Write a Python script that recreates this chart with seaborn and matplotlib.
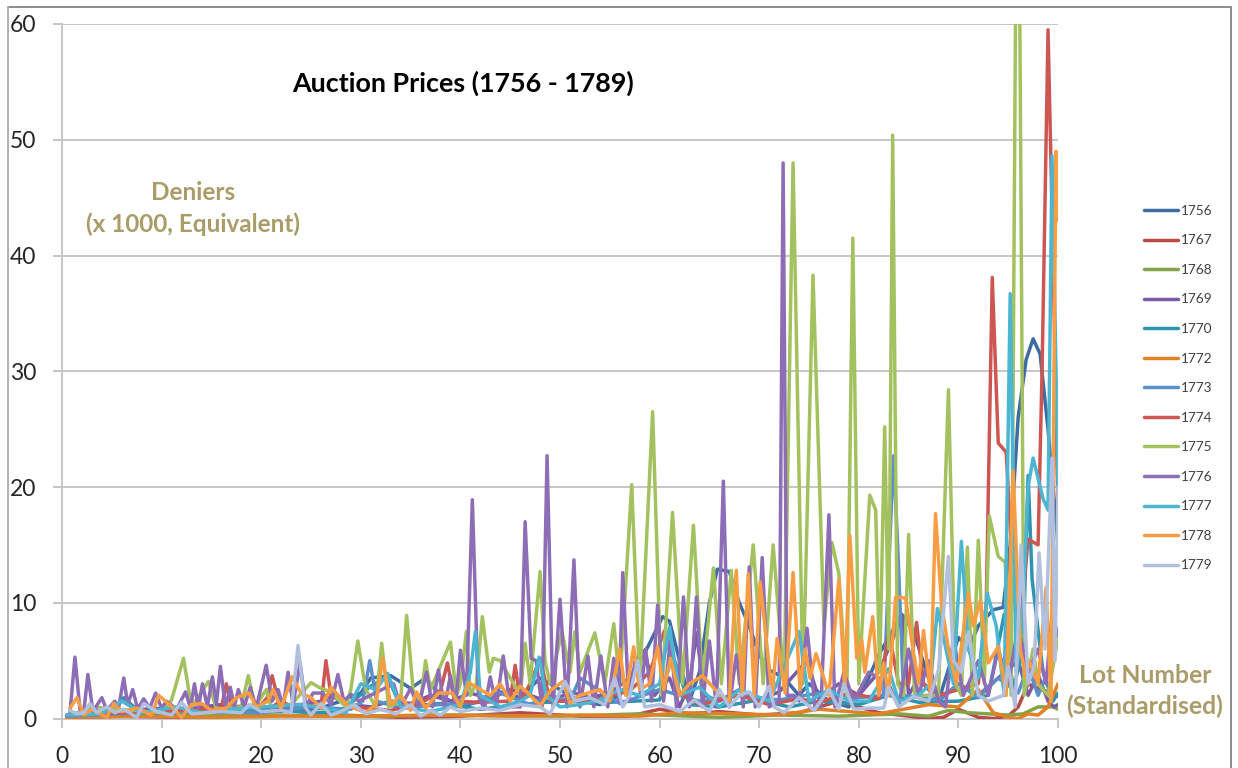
#!/bin/python3

import pandas as pd
import seaborn as sns
import matplotlib.pyplot as plt
from matplotlib.lines import Line2D

# (lot number, deniers x 1000)
pts_1756 = [(0.5,0.3),(8,0.3),(15,0.5),(22,0.6),(26,0.9),(28,1.5),(30,2.2),(31,3.5),(33,3.7),(35,2.6),(36.5,3.5),(38,2),(40,1),(42,1.5),(44,2.3),(46,1.8),(48,3.5),(50,2.5),(52,1.5),(54,1.2),(56,2),(57.5,4),(59,6.5),(60.3,8.8),(61,8.4),(62,5),(63,1.5),(64,4),(65,10),(65.8,12.9),(67,12.7),(68,10),(69,8),(70,5.5),(71,4.2),(72.5,3.5),(74,2),(75,3),(77,1.5),(79,1),(80,2),(81,3.5),(82,5.5),(83,7),(84.3,9),(85.5,7.5),(87,3.5),(88,1.5),(90,7),(91,6),(92,8),(93.5,9.4),(94.5,9.6),(95.2,15),(96,26),(96.8,31),(97.5,32.8),(98.2,31.5),(99,25),(100,15)]
pts_1767 = [(0.5,0.1),(6,0.2),(12,0.1),(20,0.4),(22,1.5),(24,0.6),(28,0.3),(34,0.1),(40,0.2),(46,0.5),(52,0.2),(57,0.2),(60,0.8),(63,0.4),(66,0.6),(70,0.3),(74,0.5),(78,1.5),(82,0.5),(85,0.2),(87,0),(88.5,0.1),(90,0.8),(92,0.1),(93.5,0),(95,0.2),(96,1),(97,3),(98,2.6),(99,2.3),(100,1.9)]
pts_1768 = [(0.5,0.2),(10,0.2),(20,0.3),(30,0.2),(40,0.3),(50,0.2),(58,0.4),(60,0.3),(66,0.1),(72,0.3),(78,0.2),(84,0.4),(87,0.2),(89,0.7),(91,0.5),(93,0.4),(95,0.3),(96.5,0.4),(98,1),(99.5,1),(100,0.8)]
pts_1769 = [(1,0.4),(3,0.7),(5,0.5),(7,0.6),(9,0.9),(12,0.7),(14,1),(16,1.2),(18,0.8),(20,1),(22,0.9),(24,1.2),(26,1.5),(27.5,2),(29,1.2),(31,1),(33,1.5),(35,1.3),(37,2),(39,1.5),(41,2.2),(43,1.7),(45,2.5),(47,2),(49,1.4),(51,2.3),(53,1.8),(55,2.2),(57,3.5),(58.5,5.9),(59.5,2),(61,3.5),(62,1),(63,3),(63.7,7.4),(64.5,2),(66,1.5),(68,2.5),(70,1.6),(72,2.3),(74.8,5),(76,1.7),(78,3),(80,2),(82,4),(84.4,8.9),(85,2),(86,3.5),(88,1.5),(90,3),(92,2),(94,3.5),(96,5),(97,2),(98,3.8),(99,1.5),(99.6,1),(100,1.2)]
pts_1770 = [(0.5,0.2),(5,0.3),(6.2,1.8),(8,0.4),(12,0.5),(18,0.8),(22,0.7),(25,0.5),(28,0.6),(31,2.8),(32.7,3.6),(34,1),(38,1.3),(42,0.8),(46,1.2),(50,1.5),(55,1.4),(60,1.6),(61.3,5.5),(63,1.2),(66,1),(70,1.6),(73,1),(76,1.5),(80,1.2),(83,2),(86,1.4),(90,1.5),(93,2),(94.6,9),(95.5,2.5),(96.5,6),(97,21),(97.4,12),(98.5,4),(99.5,1.5),(100,2.2)]
pts_1772 = [(0.5,0.1),(8,0.2),(15,0.1),(22,0.2),(30,0.2),(38,0.3),(45,0.2),(52,0.3),(58,0.2),(62,0.5),(68,0.4),(72,0.3),(76,0.8),(82,0.4),(87,1.2),(90,1),(92,2.5),(93.5,0.5),(95,0.1),(96,0),(97,0.4),(98,0.3),(99,1),(100,3)]
pts_1773 = [(0.5,0.2),(6,0.4),(14,0.6),(20,0.5),(25,1),(29,0.8),(30.2,1.5),(30.9,5),(31.6,1.5),(34,0.9),(38,1.2),(42,1.4),(44,2.2),(47,1.2),(49,2),(51,1.5),(52,3.5),(56,1.3),(60,2.5),(64,1.5),(68,2),(72,1.6),(76,2.2),(80,1.8),(82.5,2),(83.1,15),(83.5,22.7),(83.9,15),(84.5,2),(88,1.6),(90,3),(92,1.8),(94,3.5),(96,2.2),(97,4.5),(98,2),(99,4),(99.7,11),(100,13)]
pts_1774 = [(0.5,0.3),(10,0.6),(16,0.9),(16.5,3),(17,1),(20,1.2),(20.6,1.8),(21.1,3.7),(21.8,1.2),(24,1.2),(26,1),(26.5,5),(27,2),(29,1),(33,0.7),(36,1.3),(38,2.4),(38.7,4.8),(39.4,1.5),(42,1.4),(45,1.5),(45.5,4.6),(46,1.5),(47,3),(48,5.2),(49,1.5),(53,1.5),(57,2.4),(59,4),(60.5,7.6),(62,2.2),(64,1.2),(68,2),(71,1.2),(74,1.7),(76,1.4),(79,2.2),(82,1.7),(83,7.5),(84,3),(85,3),(85.8,8.3),(86.5,3),(88,2),(90,2.5),(92,3),(92.8,10),(93.4,38.1),(94,23.8),(94.8,23),(95.3,15),(96,6),(97,15.5),(98,15),(98.4,30),(99,59.5),(99.5,40),(100,17.6)]
pts_1775 = [(1,0.3),(3,1),(10,0.5),(11,1.6),(12.2,5.2),(13,1),(14.7,3.2),(15.5,0.8),(18,1),(18.7,3.7),(19.4,1),(20.5,2.5),(21,1),(23,1.2),(25,3.1),(26,2.6),(27,2.3),(28.5,1),(29,2.5),(29.7,6.7),(30.5,2.5),(31.5,1),(32.1,6.5),(32.8,1),(34,1.5),(34.6,8.9),(35.3,2),(36,1.5),(36.5,5),(37,2.5),(39,6.6),(39.6,2),(40,3),(40.6,7.5),(41,2),(41.6,3),(42.2,8.8),(42.9,4),(43.3,5.2),(44,5),(46,2),(46.5,6.5),(47,3),(48,12.7),(48.5,5),(49,3),(50.2,7.5),(51,4),(51.5,7.5),(52,4),(53.5,7.4),(54.5,3),(55.4,8.2),(56,3),(57.2,20.2),(58,3),(59.3,26.5),(60.2,2),(61.3,17.8),(62.3,3),(63.4,16.7),(64.3,3),(65.4,13),(66.2,3),(67.2,12.8),(68,3),(69.4,15),(70.4,3),(71.4,15),(72.5,3),(73.4,48),(74.4,3),(75.4,38.3),(76.5,8),(77.3,15.2),(78,12.5),(78.8,2),(79.4,41.5),(80,3),(81.1,19.3),(81.7,18),(82.1,4),(82.6,25.2),(83,6),(83.4,50.4),(83.9,3),(84.5,2),(85,15.9),(85.6,2),(88,2),(89,28.4),(89.7,3),(90.3,2),(90.9,14.8),(91.4,2),(92,15.4),(92.6,3),(93.1,17.5),(94,14),(94.7,13.5),(95.3,2),(95.95,90),(96.6,2),(97.5,6),(98,3),(99,2),(100,7)]
pts_1776 = [(0.8,0.5),(1.3,5.3),(1.8,0.8),(2.2,0.7),(2.6,3.8),(3.1,0.6),(4,1.8),(4.5,0.7),(5.3,1.5),(5.7,1),(6.2,3.5),(6.6,1.2),(7.1,2.5),(7.6,0.8),(8.2,1.7),(8.8,0.9),(9.4,2.2),(10,0.9),(10.5,1.5),(11.5,0.8),(12.4,2.3),(12.9,0.9),(13.3,3),(13.7,0.9),(14.1,3),(14.6,1),(15.1,3.6),(15.5,1.2),(15.9,4.5),(16.4,1),(16.9,2.7),(17.3,1),(17.7,2.5),(18.3,1),(18.9,2.7),(19.5,0.9),(20.5,4.6),(21.1,1.5),(21.7,2.5),(22.2,1),(22.7,4),(23.2,1.2),(23.9,4.8),(24.5,1),(25.2,2.2),(26.2,2.2),(27,1.2),(27.7,3.8),(28.3,1.5),(29,2.1),(29.8,1.5),(33.3,3),(34,1),(35,2.6),(35.8,1),(36.6,4),(37.2,1),(37.8,4.2),(38.4,1),(39,3.7),(39.5,1),(40,5.9),(40.6,2),(41.2,18.9),(41.8,2),(42.4,0.8),(43,3.6),(43.6,1),(44.3,5.4),(45,1),(46,1),(46.5,17),(47.1,5.2),(47.6,5),(48.2,1),(48.7,22.7),(49.3,1),(50,10.3),(50.7,1),(51.4,13.7),(52,1),(52.8,5.4),(53.4,1),(54.1,5.4),(54.8,1),(55.4,5.2),(55.9,1.5),(56.3,12.6),(56.9,1.5),(57.6,5.3),(58.1,2),(58.6,6),(59.2,1.5),(59.8,9.8),(60.4,1.5),(61.1,6.8),(61.7,1),(62.4,10.5),(63,1),(63.7,10.5),(64.3,1),(65,6.7),(65.7,1),(66.4,20.5),(67,1),(67.7,5.5),(68.4,1),(69,13.1),(69.6,1),(70.3,13.9),(71,1),(72,1.5),(72.4,48),(72.8,2),(73.5,2),(74,1.5),(74.8,7.8),(75.6,1),(76.2,1),(77,17.6),(77.6,1),(78.5,4),(79.5,1.5),(81,4),(83,3),(84,1),(85,6),(86,2),(87,5),(88,1.5),(88.7,1),(89.5,7),(90.5,2),(91,3),(92,5),(93,2),(94,6),(95,3),(96,8),(97,4),(98,6),(98.8,3),(99.4,9),(100,7.2)]
pts_1777 = [(0.5,0.3),(4,0.4),(6,1.5),(8,0.5),(11.5,1),(14,0.5),(17,0.8),(20,1),(24,1.2),(27,0.8),(28.5,0.5),(30,3),(31.5,2.5),(32.7,3.9),(34,1),(37,0.6),(40,1.2),(41,4),(41.5,7.5),(42,2),(44,1),(46,1.5),(47,2),(47.9,5.3),(48.6,2),(50,1),(52,1.2),(54,1.6),(56,2.5),(58,2),(60,3),(61,7.9),(62,2),(64,2.7),(66,1),(68,2.5),(71,1.5),(74,7.5),(75,1.5),(77,2.5),(79,1.5),(81,1.5),(83,4.3),(84,1.5),(86,2),(87.2,3),(87.9,9.5),(88.5,7),(89.5,3),(90.3,15.3),(91,6),(92,3.5),(92.9,10.8),(93.8,8),(94.6,2),(95.2,36.7),(95.8,4),(96.4,8),(97,20),(97.5,22.5),(98.5,19),(99,18),(99.4,48.6),(99.8,30),(100,20)]
pts_1778 = [(0.8,0.9),(1.5,1.8),(2.2,0.3),(3,0.8),(4.5,0.1),(5.2,1.3),(6,0.6),(7.5,0.9),(9,0.3),(9.7,2),(10.8,1.2),(12,0.1),(13,1.2),(14,1.3),(15,0.7),(16.5,0.9),(17.5,1.8),(18.8,2.2),(19.5,1),(20.7,1.5),(21.2,2.5),(22,0.9),(23.1,3.6),(24,2.2),(25,1.8),(26,0.9),(27,2.7),(28.7,1.1),(30.5,0.5),(31.5,1.2),(32.2,5.2),(33,1.2),(34,2),(35,0.7),(35.6,2.3),(36.5,0.9),(37.8,2.2),(39.2,2.2),(40,1),(40.8,3.1),(42,2.5),(43,2),(44,3),(45,1.5),(46,2.8),(47,2),(48,1.1),(49,2.4),(50.3,3.2),(51,1.3),(52,2),(54,2.5),(55,1.5),(56,6),(56.6,2),(57.4,6.2),(58,2.5),(59,3),(59.8,6.2),(60.4,2.5),(61.1,5.2),(62,2),(63,3),(64.3,3.7),(65.9,2.2),(67,1.5),(67.7,12.8),(68.3,2),(68.9,12.5),(69.5,2),(70.1,11.8),(71.3,2),(71.8,6.9),(72.6,2.2),(73.4,12.6),(74.1,2.5),(74.6,6),(75.1,3.5),(75.7,5.6),(76.3,4),(77,2),(78,12),(78.6,2.5),(79.1,15.8),(79.8,5.2),(80.3,6.8),(80.6,4),(81.4,8.8),(82,2),(82.5,4.8),(83,2),(83.7,10.5),(84.7,10.4),(85.4,6.2),(86,3),(86.5,7.6),(87.2,2),(87.7,17.7),(88.3,10),(89,6),(89.8,3),(91,10.8),(91.5,8),(92.2,10.2),(93,4.8),(93.5,5.5),(94,6.2),(94.8,2),(95.5,21.4),(96.2,6),(96.8,3.5),(97.1,5),(98,3),(98.8,11.3),(99.3,1.5),(99.8,49),(100,43)]
pts_1779 = [(0.8,0.7),(1.5,0.4),(2.2,0.5),(2.8,1.3),(3.5,0.5),(4.5,1),(5.3,0.5),(6.2,0.8),(7.5,0.1),(8.2,1.3),(9.5,0.6),(11,0.3),(12,1.4),(13,0.4),(14.5,0.5),(16,0.6),(18,0.5),(18.8,1.2),(20,0.6),(22,0.7),(23,0.5),(23.7,6.3),(24.4,1),(25,0.3),(26,1.3),(27,0.3),(28,0.6),(29.3,1.2),(30.5,0.4),(32,0.8),(33.5,0.4),(35,1.2),(36,0.2),(37,0.7),(38,0.3),(39,1),(40,0.6),(42,0.9),(44,0.7),(46,1.2),(48,1),(49,0.4),(50.5,3.2),(51.5,1.5),(53,1.8),(54.5,1.2),(55.5,3.5),(56.3,1),(57,2),(57.8,5),(58.5,1),(60,1.2),(62,0.6),(63.5,1.6),(65,0.6),(66,2.5),(67,1),(68,2),(69,2.3),(70,1),(71,2.8),(71.5,1),(72.5,0.5),(74,1.8),(75.5,0.7),(77,2.5),(78,0.8),(78.5,3),(79.5,0.8),(81,0.9),(82.5,0.9),(83,2.7),(84,1),(85.5,1.9),(87,1.5),(88,4.2),(89,14),(89.5,5),(90.3,4),(91,7.5),(92,2),(93,1.5),(94.5,2),(95,4.5),(95.7,1),(96.3,15),(97,3),(97.6,4.5),(98.1,14.3),(98.7,6),(99.4,22.5),(99.7,5),(100,20)]

years = ["1756","1767","1768","1769","1770","1772","1773","1774","1775","1776","1777","1778","1779"]
all_pts = [pts_1756,pts_1767,pts_1768,pts_1769,pts_1770,pts_1772,pts_1773,pts_1774,pts_1775,pts_1776,pts_1777,pts_1778,pts_1779]
colors = ["#3D6BA3","#BA4A47","#85A347","#7B5BA3","#2F93AE","#E08126","#5B8FCC","#CC5652","#A3C25F","#8D6DB5","#4BB5D2","#F99D42","#B0C0DE"]

x_ticks = [0,10,20,30,40,50,60,70,80,90,100]
y_ticks = [0,10,20,30,40,50,60]

GRAY = "#c6c6c6"
TAN = "#a99c68"

sns.set_theme(style="white")
plt.rcParams["font.family"] = ["Lato", "DejaVu Sans"]
plt.rcParams["lines.solid_joinstyle"] = "round"
plt.rcParams["lines.solid_capstyle"] = "round"

W, H = 1238, 768
fig = plt.figure(figsize=(W / 100, H / 100), dpi=100)
ax = fig.add_axes([62 / W, 1 - 718.5 / H, 996 / W, 694.5 / H])

frames = []
for yr, pts in zip(years, all_pts):
    part = pd.DataFrame(pts, columns=["lot", "price"])
    part["year"] = yr
    frames.append(part)
df = pd.concat(frames, ignore_index=True)

sns.lineplot(
    data=df,
    x="lot",
    y="price",
    hue="year",
    hue_order=years,
    palette=colors,
    estimator=None,
    sort=False,
    linewidth=2.5,
    ax=ax,
    zorder=3,
)

ax.set_xlim(0, 100)
ax.set_ylim(0, 60)
ax.set_xticks(x_ticks)
ax.set_yticks(y_ticks)
ax.set_xlabel("")
ax.set_ylabel("")
ax.grid(True, axis="y", color=GRAY, linewidth=1.4)
ax.set_axisbelow(True)
for side in ["top", "right"]:
    ax.spines[side].set_visible(False)
for side in ["left", "bottom"]:
    ax.spines[side].set_color(GRAY)
    ax.spines[side].set_linewidth(1.4)
ax.tick_params(axis="both", length=6.5, width=1.4, color=GRAY, labelsize=16.5, labelcolor="#262626", left=True, bottom=True)
ax.tick_params(axis="x", pad=13.5)
ax.tick_params(axis="y", pad=12)

handles, labels = ax.get_legend_handles_labels()
leg = ax.legend(
    handles,
    labels,
    loc="upper left",
    bbox_to_anchor=(1132 / W, 1 - 192.5 / H),
    bbox_transform=fig.transFigure,
    frameon=False,
    fontsize=9.8,
    handlelength=2.5,
    handletextpad=0.2,
    labelspacing=1.29,
    labelcolor="#404040",
)

fig.text(463.5 / W, 1 - 83 / H, "Auction Prices (1756 - 1789)", ha="center", va="center", fontsize=19.4, fontweight="bold", color="black")
fig.text(193 / W, 1 - 208.5 / H, "Deniers\n(x 1000, Equivalent)", ha="center", va="center", fontsize=17.5, fontweight="bold", color=TAN, linespacing=1.38)
fig.text(1145 / W, 1 - 691 / H, "Lot Number\n(Standardised)", ha="center", va="center", fontsize=17.8, fontweight="bold", color=TAN, linespacing=1.36)

# outer chart frame, open at the bottom
fig.add_artist(Line2D([8 / W, 1231 / W], [1 - 7 / H, 1 - 7 / H], color="#8c8c8c", linewidth=1.4))
fig.add_artist(Line2D([8 / W, 8 / W], [0, 1 - 7 / H], color="#b0b0b0", linewidth=1.4))
fig.add_artist(Line2D([1231 / W, 1231 / W], [0, 1 - 7 / H], color="#8c8c8c", linewidth=1.4))

fig.savefig("out.png", dpi=100)
